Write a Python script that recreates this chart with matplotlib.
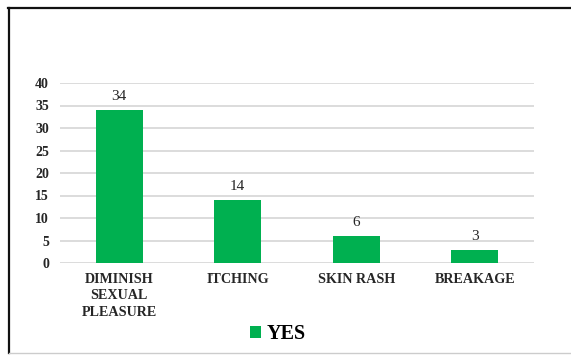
import matplotlib.pyplot as plt
from matplotlib.lines import Line2D
from matplotlib.patches import Patch

# side effects reported
categories = ['DIMINISH\nSEXUAL\nPLEASURE', 'ITCHING', 'SKIN RASH', 'BREAKAGE']
yes_counts = [34, 14, 6, 3]
y_ticks = [0, 5, 10, 15, 20, 25, 30, 35, 40]

plt.rcParams['font.family'] = ['Liberation Serif', 'DejaVu Serif']

green = '#00B050'
text_color = '#262626'

fig = plt.figure(figsize=(5.71, 3.56), dpi=100)
ax = fig.add_axes([60 / 571, 1 - 263 / 356, 474 / 571, 180 / 356])

x = range(len(categories))
bars = ax.bar(x, yes_counts, width=0.4, color=green, zorder=3)

for rect, v in zip(bars, yes_counts):
    ax.annotate(str(v), (rect.get_x() + rect.get_width() / 2, v),
                xytext=(0, 5), textcoords='offset points',
                ha='center', va='bottom', fontsize=11, color=text_color)

ax.set_xlim(-0.5, len(categories) - 0.5)
ax.set_ylim(0, 40)
ax.set_yticks(y_ticks)
ax.set_yticklabels([str(t) for t in y_ticks], fontsize=10, fontweight='bold', color=text_color)
ax.set_xticks(list(x))
ax.set_xticklabels(categories, fontsize=10.2, fontweight='bold', color=text_color,
                   linespacing=1.35)
ax.tick_params(axis='y', length=0, pad=8)
ax.tick_params(axis='x', length=0, pad=7)
ax.yaxis.grid(True, color='#d9d9d9', linewidth=1.3, zorder=0)
ax.set_axisbelow(True)
for s in ax.spines.values():
    s.set_visible(False)

handle = Patch(facecolor=green, edgecolor='none')
fig.legend([handle], ['YES'], loc='center', bbox_to_anchor=(0.487, 0.062),
           frameon=False, handlelength=0.55, handleheight=0.55, handletextpad=0.3,
           prop={'weight': 'bold', 'size': 14.5})

# frame around the chart
fig.add_artist(Line2D([8 / 571, 1], [1 - 8 / 356, 1 - 8 / 356], color='#111111', linewidth=1.6))
fig.add_artist(Line2D([9 / 571, 9 / 571], [1 - 8 / 356, 3 / 356], color='#111111', linewidth=1.6))
fig.add_artist(Line2D([9 / 571, 1], [3 / 356, 3 / 356], color='#cccccc', linewidth=1.0))

fig.savefig('out.png', dpi=100)
